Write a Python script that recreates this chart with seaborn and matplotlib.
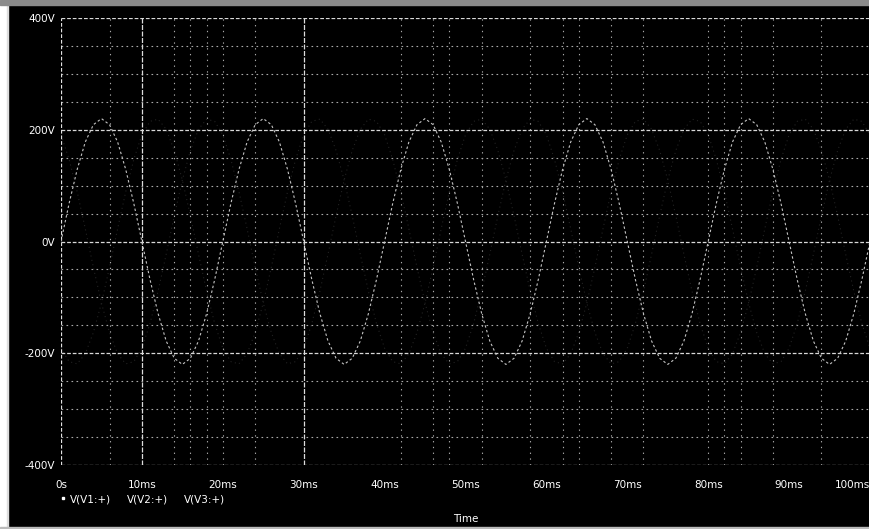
import matplotlib
matplotlib.use("Agg")
import matplotlib.pyplot as plt
import pandas as pd
import seaborn as sns
from matplotlib.lines import Line2D
from matplotlib.patches import Rectangle

# ---------------- data ----------------
# one 20 ms period (50 Hz) sampled every 1 ms, in volts
v1_period = [0, 68, 129, 178, 209, 220, 209, 178, 129, 68,
             0, -68, -129, -178, -209, -220, -209, -178, -129, -68]
v2_period = [-191, -215, -219, -201, -163, -110, -46, 23, 89, 147,
             191, 215, 219, 201, 163, 110, 46, -23, -89, -147]
v3_period = [191, 147, 89, 23, -46, -110, -163, -201, -219, -215,
             -191, -147, -89, -23, 46, 110, 163, 201, 219, 215]
n_periods = 5
series_names = ["V(V1:+)", "V(V2:+)", "V(V3:+)"]

x_ticks = [0, 10, 20, 30, 40, 50, 60, 70, 80, 90, 100]
x_tick_labels = ["0s", "10ms", "20ms", "30ms", "40ms", "50ms",
                 "60ms", "70ms", "80ms", "90ms", "100ms"]
y_ticks = [-400, -200, 0, 200, 400]
y_tick_labels = ["-400V", "-200V", "0V", "200V", "400V"]
y_minor_grid = [-350, -300, -250, -150, -100, -50, 50, 100, 150, 250, 300, 350]
x_minor_grid = [6, 10, 14, 16, 18, 20, 24, 30, 42, 46, 48, 52, 58, 62,
                64, 68, 72, 80, 82, 84, 88, 94]
x_label = "Time"

# ---------------- build table ----------------
time_ms = list(range(0, 20 * n_periods + 1))
periods = [v1_period, v2_period, v3_period]
rows = []
for name, per in zip(series_names, periods):
    vals = per * n_periods + [per[0]]
    for t, v in zip(time_ms, vals):
        rows.append({"t": t, "v": v, "series": name})
df = pd.DataFrame(rows)

# ---------------- style ----------------
sns.set_style("dark")
plt.rcParams["font.family"] = ["DejaVu Sans"]

W, H = 870, 529
fig = plt.figure(figsize=(W / 100, H / 100), dpi=100, facecolor="black")
ax = fig.add_axes([61 / W, 64 / H, 809 / W, 447 / H])
ax.set_facecolor("black")
ax.set_xlim(0, 100)
ax.set_ylim(-400, 400)

# grid
for yv in y_minor_grid:
    ax.axhline(yv, color="#a8a8a8", lw=0.8, ls=(0, (1.5, 3)), zorder=1)
for yv in y_ticks:
    ax.axhline(yv, color="#d8d8d8", lw=0.9, ls=(0, (3, 1.5)), zorder=1)
for xv in x_minor_grid:
    strong = xv in (10, 30)
    ax.axvline(xv, color="#dcdcdc" if strong else "#a8a8a8",
               lw=0.9 if strong else 0.8,
               ls=(0, (4, 1.2)) if strong else (0, (1.2, 4)), zorder=1)
ax.axvline(0, color="#e0e0e0", lw=0.9, ls=(0, (3, 1.5)), zorder=1)

# traces
trace_colors = {"V(V1:+)": "#c4c4c4", "V(V2:+)": "#222222", "V(V3:+)": "#222222"}
trace_ls = {"V(V1:+)": (0, (2.2, 2.2)), "V(V2:+)": (0, (1, 3)), "V(V3:+)": (0, (1, 3))}
trace_z = {"V(V1:+)": 3, "V(V2:+)": 0.5, "V(V3:+)": 0.5}
for name in series_names:
    sns.lineplot(data=df[df["series"] == name], x="t", y="v", ax=ax,
                 color=trace_colors[name], lw=0.8, legend=False,
                 zorder=trace_z[name], linestyle=trace_ls[name], estimator=None)

for s in ax.spines.values():
    s.set_visible(False)
ax.grid(False)

ax.set_xticks(x_ticks)
ax.set_xticklabels(x_tick_labels)
ax.set_yticks(y_ticks)
ax.set_yticklabels(y_tick_labels)
ax.tick_params(axis="both", length=0, colors="white", labelsize=7.5)
ax.tick_params(axis="x", pad=11)
ax.tick_params(axis="y", pad=4)
ax.get_xticklabels()[-1].set_horizontalalignment("right")
ax.set_ylabel("")
ax.set_xlabel(x_label, color="white", fontsize=7.5)
ax.xaxis.set_label_coords(0.5, -(514 - 465) / 447)

# legend
handles = [
    Line2D([], [], marker="s", ms=2, color="white", ls="none"),
    Line2D([], [], marker="D", ms=2, color="black", ls="none"),
    Line2D([], [], marker="v", ms=2, color="black", ls="none"),
]
leg = ax.legend(handles, series_names, loc="upper left",
                bbox_to_anchor=(60 / W, 1 - 494 / H), bbox_transform=fig.transFigure,
                ncol=3, frameon=False, fontsize=7.5, handlelength=0.6,
                handletextpad=0.4, columnspacing=0.5, borderaxespad=0, borderpad=0)
for t in leg.get_texts():
    t.set_color("white")

# scan border
fig.patches.append(Rectangle((0, 0), 6 / W, 1, transform=fig.transFigure,
                             color="white", zorder=10))
fig.patches.append(Rectangle((7 / W, 0), 1 / W, 1, transform=fig.transFigure,
                             color="#dddddd", zorder=10))
fig.patches.append(Rectangle((0, 1 - 5 / H), 1, 5 / H, transform=fig.transFigure,
                             color="#8a8a8a", zorder=10))
fig.patches.append(Rectangle((0, 0), 1, 2 / H, transform=fig.transFigure,
                             color="#bbbbbb", zorder=10))

fig.savefig("out.png", dpi=100, facecolor="black")
